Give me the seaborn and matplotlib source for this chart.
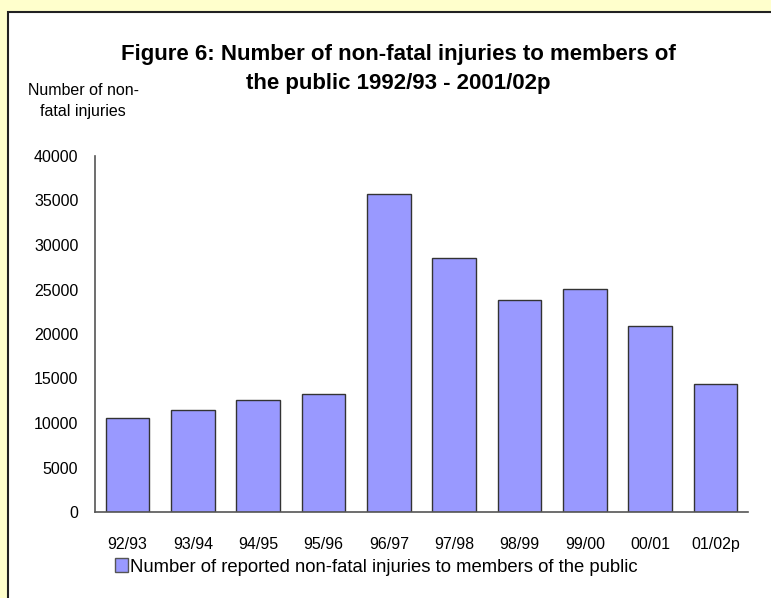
import pandas as pd
import matplotlib
matplotlib.use('Agg')
import matplotlib.pyplot as plt
import seaborn as sns
from matplotlib.patches import Rectangle, Patch

# ── data ──────────────────────────────────
years = ['92/93', '93/94', '94/95', '95/96', '96/97',
         '97/98', '98/99', '99/00', '00/01', '01/02p']
injuries = [10550, 11450, 12600, 13250, 35700,
            28500, 23800, 25100, 20900, 14350]
y_ticks = [0, 5000, 10000, 15000, 20000, 25000, 30000, 35000, 40000]

df = pd.DataFrame({'Year': years, 'Injuries': injuries})

sns.set_style('white')
plt.rcParams['font.family'] = ['Liberation Sans', 'DejaVu Sans']
plt.rcParams['text.color'] = 'black'
plt.rcParams['xtick.color'] = 'black'
plt.rcParams['ytick.color'] = 'black'

bar_color = '#9999FF'

fig = plt.figure(figsize=(7.71, 5.98), dpi=100)
fig.patch.set_facecolor('#FFFFCC')

# white chart frame with black border
frame = Rectangle((8 / 771, -0.05), 1.1, (598 - 12) / 598 + 0.05,
                  transform=fig.transFigure, facecolor='white',
                  edgecolor='#222222', linewidth=1.5, zorder=-5)
fig.patches.append(frame)

ax = fig.add_axes([95 / 771, 86 / 598, (748 - 95) / 771, (512 - 156) / 598])
ax.set_zorder(2)
ax.set_facecolor('none')

sns.barplot(data=df, x='Year', y='Injuries', color=bar_color,
            saturation=1, width=0.667, edgecolor='#333333',
            linewidth=1, ax=ax)

ax.set_xlim(-0.5, len(years) - 0.5)
ax.set_ylim(0, 40000)
ax.set_yticks(y_ticks)
ax.set_yticklabels([str(v) for v in y_ticks], fontsize=11.5)
ax.set_xticks(range(len(years)))
ax.set_xticklabels(years, fontsize=11.5)
ax.set_xticks([i - 0.5 for i in range(len(years) + 1)], minor=True)
ax.tick_params(axis='x', which='major', length=0, pad=18)
ax.tick_params(axis='x', which='minor', length=5, width=1, color='#555555')
ax.tick_params(axis='y', length=6, width=1, color='#555555', pad=6)
ax.set_xlabel('')
ax.set_ylabel('')

for side in ['top', 'right']:
    ax.spines[side].set_visible(False)
for side in ['left', 'bottom']:
    ax.spines[side].set_color('#555555')
    ax.spines[side].set_linewidth(1.2)

fig.text(0.517, 1 - 69 / 598,
         'Figure 6: Number of non-fatal injuries to members of\n'
         'the public 1992/93 - 2001/02p',
         ha='center', va='center', fontsize=16, fontweight='bold',
         linespacing=1.5)

fig.text(83 / 771, 1 - 101 / 598, 'Number of non-\nfatal injuries',
         ha='center', va='center', fontsize=11.5, linespacing=1.55)

ax.legend(handles=[Patch(facecolor=bar_color, edgecolor='#555555')],
          labels=['Number of reported non-fatal injuries to members of the public'],
          loc='center', bbox_to_anchor=(0.488, 1 - 567 / 598),
          bbox_transform=fig.transFigure, frameon=False,
          fontsize=13.3, handlelength=0.72, handleheight=0.72,
          handletextpad=0.12)

fig.savefig('out.png', dpi=100, facecolor=fig.get_facecolor())
